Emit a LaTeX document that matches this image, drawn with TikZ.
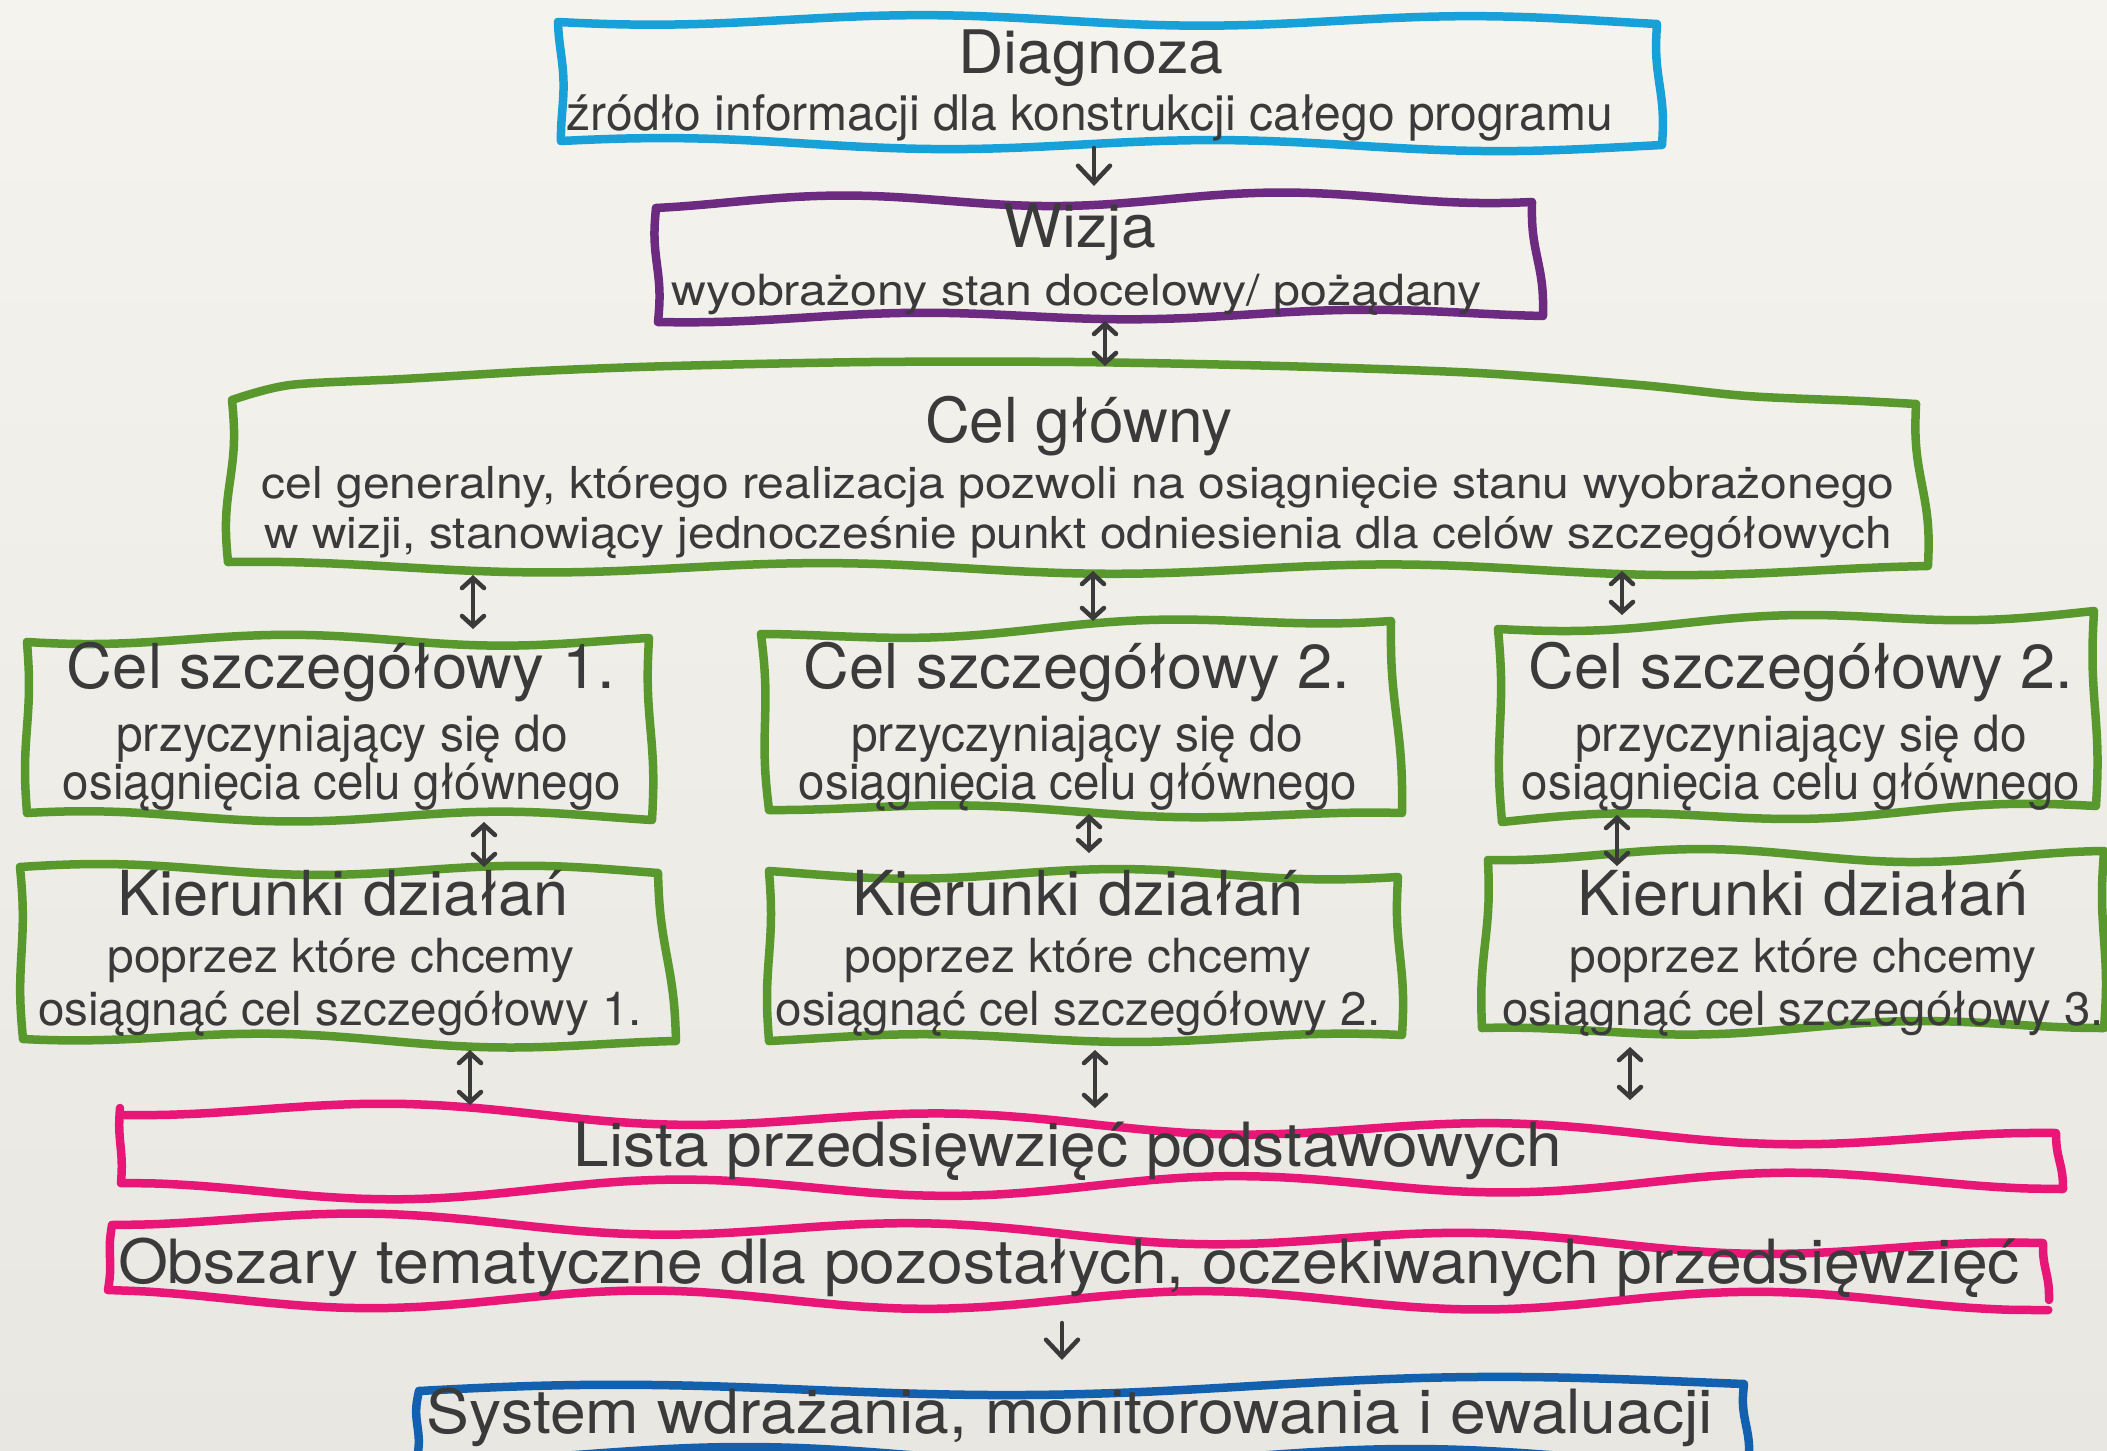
\documentclass[tikz,border=0pt]{standalone}
\usepackage{fontspec}
\setmainfont{TeX Gyre Heros}
\usepackage{graphicx}
\usetikzlibrary{arrows.meta}
\definecolor{paper}{RGB}{245,243,237}
\definecolor{paperb}{RGB}{233,231,226}
\definecolor{ink}{RGB}{58,58,58}
\definecolor{cdiag}{RGB}{24,160,216}
\definecolor{cwiz}{RGB}{108,42,128}
\definecolor{cgreen}{RGB}{88,152,44}
\definecolor{cpink}{RGB}{232,22,118}
\definecolor{csys}{RGB}{18,96,174}

\newcommand\tx[3]{\resizebox{#2pt}{\height}{\fontsize{#1pt}{#1pt}\selectfont #3}}
% wavy side: colour, x1,y1,x2,y2, amplitude, periods, phase
\newcommand\wside[8]{\draw[#1, line width=8.5pt, line cap=round] plot[domain=0:1, samples=50, smooth, variable=\t]
 ({#2+(#4-#2)*\t-(#5-#3)/veclen(#4-#2,#5-#3)*#6*(sin(360*#7*\t+#8)-(1-\t)*sin(#8)-\t*sin(360*#7+#8))},
  {#3+(#5-#3)*\t+(#4-#2)/veclen(#4-#2,#5-#3)*#6*(sin(360*#7*\t+#8)-(1-\t)*sin(#8)-\t*sin(360*#7+#8))});}

\begin{document}
\begin{tikzpicture}[x=1pt,y=-1pt,
  txt/.style={inner sep=0pt, anchor=base, text=ink},
  boxn/.style={inner sep=0pt, outer sep=0pt, draw=none, rectangle},
  arr/.style={draw=ink, line width=4.5pt, line cap=round, -{Straight Barb[length=17pt,width=32pt,line cap=round]}},
  darr/.style={draw=ink, line width=4.5pt, line cap=round, {Straight Barb[length=10pt,width=22pt,line cap=round]}-{Straight Barb[length=10pt,width=22pt,line cap=round]}}]
\useasboundingbox (0,0) rectangle (2107,1451);
\clip (0,0) rectangle (2107,1451);
\shade[top color=paper, bottom color=paperb] (0,0) rectangle (2107,1451);

% ---------- box nodes ----------
\node[boxn, minimum width=1100pt, minimum height=120pt] (diag) at (1110,83) {};
\node[boxn, minimum width=881pt, minimum height=114pt] (wiz) at (1097.5,262) {};
\node[boxn, minimum width=1691pt, minimum height=189pt] (cg) at (1075.5,469.5) {};
\node[boxn, minimum width=623pt, minimum height=176pt] (cs1) at (338.5,728) {};
\node[boxn, minimum width=632pt, minimum height=184pt] (cs2) at (1081,719) {};
\node[boxn, minimum width=595pt, minimum height=194pt] (cs3) at (1797.5,717) {};
\node[boxn, minimum width=646pt, minimum height=170pt] (k1) at (344,955) {};
\node[boxn, minimum width=631pt, minimum height=164pt] (k2) at (1084.5,956) {};
\node[boxn, minimum width=619pt, minimum height=173pt] (k3) at (1794.5,941.5) {};
\node[boxn, minimum width=1938pt, minimum height=62pt] (lista) at (1091,1155) {};
\node[boxn, minimum width=1936pt, minimum height=66pt] (obsz) at (1078,1267) {};
\node[boxn, minimum width=1329pt, minimum height=85pt] (sys) at (1081.5,1429.5) {};

% ---------- borders ----------
% Diagnoza
\wside{cdiag}{558}{22}{1657}{24}{5}{2}{30}
\wside{cdiag}{1657}{24}{1662}{145}{2}{1}{0}
\wside{cdiag}{561}{141}{1662}{145}{5}{2}{200}
\wside{cdiag}{558}{22}{561}{141}{2}{1}{90}
% Wizja
\wside{cwiz}{656}{208}{1532}{202}{6}{2}{120}
\wside{cwiz}{1532}{202}{1543}{316}{2}{1}{0}
\wside{cwiz}{658}{322}{1543}{316}{4}{2}{60}
\wside{cwiz}{656}{208}{658}{322}{2}{1}{0}
% Cel glowny
\draw[cgreen, line width=8.5pt, line cap=round] plot[smooth] coordinates {(232,400) (290,385) (403,379) (540,371) (672,366) (870,362) (1075,362) (1280,366) (1478,373) (1640,385) (1747,396) (1860,401) (1916,404)};
\wside{cgreen}{1916}{404}{1928}{566}{3}{1}{0}
\wside{cgreen}{228}{562}{1928}{566}{5}{3}{250}
\wside{cgreen}{232}{400}{228}{562}{3}{1}{180}
% CS1
\wside{cgreen}{27}{642}{649}{638}{5}{1.5}{40}
\wside{cgreen}{649}{638}{652}{820}{2}{1}{0}
\wside{cgreen}{27}{813}{652}{820}{5}{1.5}{220}
\wside{cgreen}{27}{642}{27}{813}{2}{1}{180}
% CS2
\wside{cgreen}{761}{634}{1391}{621}{5}{1.5}{300}
\wside{cgreen}{1391}{621}{1402}{813}{2}{1}{0}
\wside{cgreen}{769}{810}{1402}{813}{4}{1.5}{100}
\wside{cgreen}{761}{634}{769}{810}{2}{1}{180}
% CS3
\wside{cgreen}{1498}{629}{2094}{611}{5}{1.5}{10}
\wside{cgreen}{2094}{611}{2096}{806}{2}{1}{0}
\wside{cgreen}{1502}{822}{2096}{806}{5}{1.5}{170}
\wside{cgreen}{1498}{629}{1502}{822}{2}{1}{180}
% K1
\wside{cgreen}{20}{867}{658}{873}{5}{1.5}{200}
\wside{cgreen}{658}{873}{676}{1041}{2}{1}{0}
\wside{cgreen}{23}{1039}{676}{1041}{5}{1.5}{60}
\wside{cgreen}{20}{867}{23}{1039}{2}{1}{180}
% K2
\wside{cgreen}{769}{871}{1398}{877}{5}{1.5}{330}
\wside{cgreen}{1398}{877}{1402}{1035}{2}{1}{0}
\wside{cgreen}{769}{1041}{1402}{1035}{4}{1.5}{140}
\wside{cgreen}{769}{871}{769}{1041}{2}{1}{180}
% K3
\wside{cgreen}{1488}{860}{2104}{851}{6}{1.5}{80}
\wside{cgreen}{2104}{851}{2104}{1028}{2}{1}{0}
\wside{cgreen}{1482}{1028}{2104}{1028}{5}{1.5}{260}
\wside{cgreen}{1488}{860}{1482}{1028}{2}{1}{180}
% Lista
\wside{cpink}{124}{1115}{2056}{1133}{8}{3.5}{90}
\wside{cpink}{2056}{1133}{2063}{1189}{1}{1}{0}
\wside{cpink}{121}{1183}{2063}{1189}{9}{3.5}{270}
\wside{cpink}{120}{1108}{121}{1183}{1}{1}{0}
% Obszary
\wside{cpink}{112}{1225}{2043}{1243}{8}{3.5}{100}
\wside{cpink}{2043}{1243}{2049}{1300}{1}{1}{0}
\wside{cpink}{108}{1290}{2049}{1310}{9}{3.5}{280}
\wside{cpink}{112}{1225}{108}{1290}{1}{1}{0}
% System
\wside{csys}{419}{1391}{1744}{1384}{7}{1.5}{200}
\wside{csys}{1744}{1384}{1748}{1466}{2}{1}{0}
\wside{csys}{416}{1462}{1748}{1466}{8}{2}{90}
\wside{csys}{419}{1391}{416}{1462}{2}{1}{0}

% ---------- texts ----------
\node[txt] (diagT) at (1091,73) {\tx{60}{265}{Diagnoza}};
\node[txt] (diagS) at (1090,130) {\tx{49}{1046}{źródło informacji dla konstrukcji całego programu}};
\node[txt] (wizT) at (1080,247) {\tx{60}{153}{Wizja}};
\node[txt] (wizS) at (1077,305) {\tx{43}{810}{wyobrażony stan docelowy/ pożądany}};
\node[txt] (cgT) at (1079,442) {\tx{62}{308}{Cel główny}};
\node[txt] (cgA) at (1078,498) {\tx{44}{1633}{cel generalny, którego realizacja pozwoli na osiągnięcie stanu wyobrażonego}};
\node[txt] (cgB) at (1078,548) {\tx{44}{1627}{w wizji, stanowiący jednocześnie punkt odniesienia dla celów szczegółowych}};

\node[txt] (cs1T) at (341,688) {\tx{62}{548}{Cel szczegółowy 1.}};
\node[txt] (cs1A) at (342,751) {\tx{50}{452}{przyczyniający się do}};
\node[txt] (cs1B) at (342,799) {\tx{50}{558}{osiągnięcia celu głównego}};
\node[txt] (cs2T) at (1077,688) {\tx{62}{546}{Cel szczegółowy 2.}};
\node[txt] (cs2A) at (1077,751) {\tx{50}{452}{przyczyniający się do}};
\node[txt] (cs2B) at (1078,799) {\tx{50}{558}{osiągnięcia celu głównego}};
\node[txt] (cs3T) at (1801,688) {\tx{62}{545}{Cel szczegółowy 2.}};
\node[txt] (cs3A) at (1801,751) {\tx{50}{452}{przyczyniający się do}};
\node[txt] (cs3B) at (1801,799) {\tx{50}{558}{osiągnięcia celu głównego}};

\node[txt] (k1T) at (343,915) {\tx{62}{451}{Kierunki działań}};
\node[txt] (k1A) at (341,972) {\tx{47}{467}{poprzez które chcemy}};
\node[txt] (k1B) at (340,1025) {\tx{47}{604}{osiągnąć cel szczegółowy 1.}};
\node[txt] (k2T) at (1078,915) {\tx{62}{451}{Kierunki działań}};
\node[txt] (k2A) at (1078,972) {\tx{47}{467}{poprzez które chcemy}};
\node[txt] (k2B) at (1078,1025) {\tx{47}{605}{osiągnąć cel szczegółowy 2.}};
\node[txt] (k3T) at (1803,915) {\tx{62}{451}{Kierunki działań}};
\node[txt] (k3A) at (1803,972) {\tx{47}{467}{poprzez które chcemy}};
\node[txt] (k3B) at (1803,1025) {\tx{47}{601}{osiągnąć cel szczegółowy 3.}};

\node[txt] (listaT) at (1068,1166) {\tx{61}{988}{Lista przedsięwzięć podstawowych}};
\node[txt] (obszT) at (1069,1283) {\tx{61}{1902}{Obszary tematyczne dla pozostałych, oczekiwanych przedsięwzięć}};
\node[txt] (sysT) at (1070,1433) {\tx{61}{1286}{System wdrażania, monitorowania i ewaluacji}};

% ---------- connectors ----------
\coordinate (xa1) at (1094,0);
\coordinate (xa2) at (1105,0);
\coordinate (xa3) at (473,0);
\coordinate (xa4) at (1093,0);
\coordinate (xa5) at (1622,0);
\coordinate (xa6) at (484,0);
\coordinate (xa7) at (1089,0);
\coordinate (xa8) at (1617,0);
\coordinate (xa9) at (470,0);
\coordinate (xa10) at (1095,0);
\coordinate (xa11) at (1630,0);
\coordinate (xa12) at (1062,0);
\draw[arr, shorten <=5pt, shorten >=19pt] (diag.south -| xa1) -- (wiz.north -| xa1);
\draw[darr, shorten <=2pt, shorten >=9pt] (wiz.south -| xa2) -- (cg.north -| xa2);
\draw[darr, shorten <=11pt, shorten >=11pt] (cg.south -| xa3) -- (cs1.north -| xa3);
\draw[darr, shorten <=7pt, shorten >=6pt] (cg.south -| xa4) -- (cs2.north -| xa4);
\draw[darr, shorten <=7pt, shorten >=5pt] (cg.south -| xa5) -- (cs3.north -| xa5);
\draw[darr, shorten <=6pt, shorten >=3pt] (cs1.south -| xa6) -- (k1.north -| xa6);
\draw[darr, shorten <=3pt, shorten >=21pt] (cs2.south -| xa7) -- (k2.north -| xa7);
\draw[darr, shorten <=1pt, shorten >=-11pt] (cs3.south -| xa8) -- (k3.north -| xa8);
\draw[darr, shorten <=10pt, shorten >=19pt] (k1.south -| xa9) -- (lista.north -| xa9);
\draw[darr, shorten <=12pt, shorten >=16pt] (k2.south -| xa10) -- (lista.north -| xa10);
\draw[darr, shorten <=19pt, shorten >=24pt] (k3.south -| xa11) -- (lista.north -| xa11);
\draw[arr, shorten <=23pt, shorten >=27pt] (obsz.south -| xa12) -- (sys.north -| xa12);
\end{tikzpicture}
\end{document}
